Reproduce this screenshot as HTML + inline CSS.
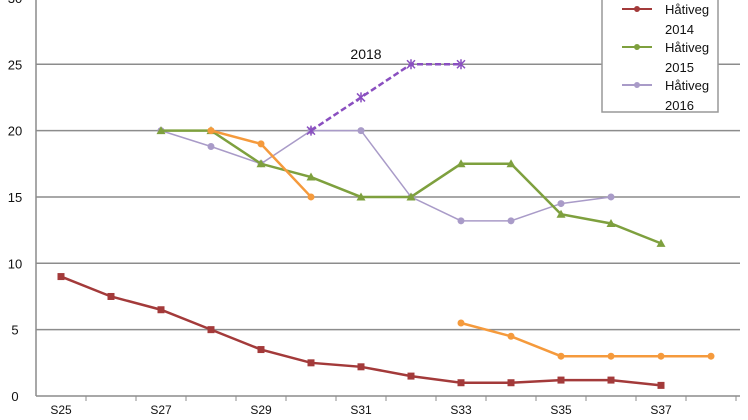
<!DOCTYPE html>
<html><head><meta charset="utf-8"><style>
body{margin:0;background:#fff;}
svg{display:block;font-family:"Liberation Sans",sans-serif;}
</style></head><body>
<svg id="chart" width="748" height="420"></svg>
<script>
const categories=["S25","S26","S27","S28","S29","S30","S31","S32","S33","S34","S35","S36","S37","S38"];
const yTicks=[0,5,10,15,20,25,30];
const s2014=[9,7.5,6.5,5,3.5,2.5,2.2,1.5,1,1,1.2,1.2,0.8,null];
const s2015=[null,null,20,20,17.5,16.5,15,15,17.5,17.5,13.7,13,11.5,null];
const s2016=[null,null,20,18.8,17.5,20,20,15,13.2,13.2,14.5,15,null,null];
const sOrange=[null,null,null,20,19,15,null,null,5.5,4.5,3,3,3,3];
const s2018=[null,null,null,null,null,20,22.5,25,25,null,null,null,null,null];
const NS="http://www.w3.org/2000/svg";
const svg=document.getElementById("chart");
const x0=36,step=50,yBase=396,perUnit=13.27;
function X(i){return x0+step*(i+0.5);}
function Y(v){return yBase-v*perUnit;}
function mk(t,a,p){const e=document.createElementNS(NS,t);for(const k in a)e.setAttribute(k,a[k]);(p||svg).appendChild(e);return e;}
// grid + y labels
yTicks.forEach(v=>{
  if(v>0){const g=mk("line",{x1:x0,x2:740,y1:Y(v),y2:Y(v),stroke:"#8c8c8c","stroke-width":1.5});
  
  }
  const t=mk("text",{x:15,y:Y(v)+5,"text-anchor":"middle","font-size":13,fill:"#111"});
  t.textContent=v;
  
  
});
const ax=mk("line",{x1:x0,x2:x0,y1:0,y2:yBase,stroke:"#8c8c8c","stroke-width":1.5});


const xa=mk("line",{x1:x0,x2:740,y1:yBase,y2:yBase,stroke:"#8c8c8c","stroke-width":1.5});


categories.forEach((c,i)=>{
  const tk=mk("line",{x1:x0+step*(i+1),x2:x0+step*(i+1),y1:yBase,y2:yBase+5,stroke:"#8c8c8c"});
  
  
  if(i%2===0){const t=mk("text",{x:X(i),y:414,"text-anchor":"middle","font-size":12,fill:"#111"});
  t.textContent=c;
  
  }
});
function series(data,color,w,name,marker,dash){
  let seg=[];const segs=[];
  data.forEach((v,i)=>{if(v==null){if(seg.length)segs.push(seg);seg=[];}else seg.push([X(i),Y(v)]);});
  if(seg.length)segs.push(seg);
  segs.forEach(s=>{const p=mk("polyline",{points:s.map(q=>q.join(",")).join(" "),fill:"none",stroke:color,"stroke-width":w});
    if(dash)p.setAttribute("stroke-dasharray",dash);
    
    
    s.forEach(q=>{let m;
      if(marker==="sq")m=mk("rect",{x:q[0]-3.5,y:q[1]-3.5,width:7,height:7,fill:color});
      else if(marker==="tri")m=mk("polygon",{points:`${q[0]},${q[1]-4.5} ${q[0]-4.5},${q[1]+3.5} ${q[0]+4.5},${q[1]+3.5}`,fill:color});
      else if(marker==="x")m=mk("path",{d:`M${q[0]-4},${q[1]-4}L${q[0]+4},${q[1]+4}M${q[0]+4},${q[1]-4}L${q[0]-4},${q[1]+4}M${q[0]},${q[1]-5}L${q[0]},${q[1]+5}`,stroke:color,"stroke-width":1.5});
      else m=mk("circle",{cx:q[0],cy:q[1],r:3.5,fill:color});
      
      
    });
  });
}
series(s2016,"#a99bc8",1.5,"series-2016","dot");
series(s2015,"#7ea03e",2.5,"series-2015","tri");
series(sOrange,"#f59a3c",2.5,"series-orange","dot");
series(s2014,"#a33a3a",2.5,"series-2014","sq");
series(s2018,"#8a4fc0",2.5,"series-2018","x","6,3");
const lb=mk("text",{x:366,y:59,"text-anchor":"middle","font-size":14,fill:"#111"});
lb.textContent="2018";


// legend
const lg=mk("g",{});


mk("rect",{x:602,y:-5,width:116,height:117,fill:"#fff",stroke:"#999","stroke-width":1.5},lg);
[["Håtiveg","2014","#a33a3a",9],["Håtiveg","2015","#7ea03e",47],["Håtiveg","2016","#a99bc8",85]].forEach(e=>{
  const g=mk("g",{},lg);
  
  
  mk("line",{x1:622,x2:652,y1:e[3],y2:e[3],stroke:e[2],"stroke-width":2},g);
  mk("circle",{cx:637,cy:e[3],r:3,fill:e[2]},g);
  const t1=mk("text",{x:665,y:e[3]+5,"font-size":13,fill:"#111"},g);t1.textContent=e[0];
  const t2=mk("text",{x:665,y:e[3]+25,"font-size":13,fill:"#111"},g);t2.textContent=e[1];
});
</script>
</body></html>
